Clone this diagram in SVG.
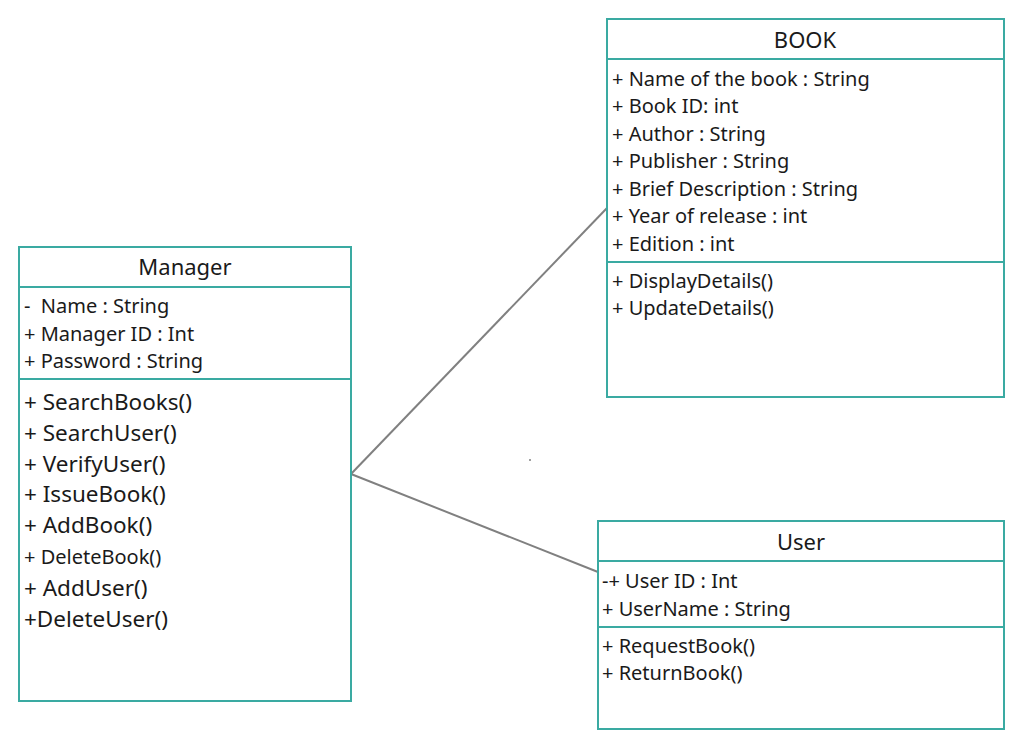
<svg xmlns="http://www.w3.org/2000/svg" width="1024" height="749" viewBox="0 0 1024 749">
<style>
.box{fill:#fff;stroke:#3aaaa2;stroke-width:2}
.sep{stroke:#3aaaa2;stroke-width:2}
text{font-family:"Noto Sans","Open Sans",sans-serif;fill:#1a1a1a}
.t{font-size:22px;text-anchor:middle}
.a{font-size:20px}
.m{font-size:22.5px}
.c{stroke:#808080;stroke-width:2;fill:none}
</style>
<rect width="1024" height="749" fill="#fff"/>
<g id="connectors">
<line class="c" x1="351" y1="474" x2="607" y2="208"/>
<line class="c" x1="351" y1="474" x2="598" y2="572"/>
<circle cx="530" cy="460" r="1" fill="#808080"/>
</g>
<g id="manager">
<rect class="box" x="19" y="247" width="332" height="454"/>
<line class="sep" x1="19" y1="287" x2="351" y2="287"/>
<line class="sep" x1="19" y1="379" x2="351" y2="379"/>
<text class="t" x="185" y="275">Manager</text>
<text class="a" x="24" y="313" xml:space="preserve">-  Name : String</text>
<text class="a" x="24" y="341">+ Manager ID : Int</text>
<text class="a" x="24" y="368">+ Password : String</text>
<text class="m" x="24" y="410">+ SearchBooks()</text>
<text class="m" x="24" y="441">+ SearchUser()</text>
<text class="m" x="24" y="472">+ VerifyUser()</text>
<text class="m" x="24" y="502">+ IssueBook()</text>
<text class="m" x="24" y="533">+ AddBook()</text>
<text class="a" x="24" y="564">+ DeleteBook()</text>
<text class="m" x="24" y="596">+ AddUser()</text>
<text class="m" x="24" y="627">+DeleteUser()</text>
</g>
<g id="book">
<rect class="box" x="607" y="19" width="397" height="378"/>
<line class="sep" x1="607" y1="59" x2="1004" y2="59"/>
<line class="sep" x1="607" y1="262" x2="1004" y2="262"/>
<text class="t" x="805" y="48">BOOK</text>
<text class="a" x="612" y="86">+ Name of the book : String</text>
<text class="a" x="612" y="113">+ Book ID: int</text>
<text class="a" x="612" y="141">+ Author : String</text>
<text class="a" x="612" y="168">+ Publisher : String</text>
<text class="a" x="612" y="196">+ Brief Description : String</text>
<text class="a" x="612" y="223">+ Year of release : int</text>
<text class="a" x="612" y="251">+ Edition : int</text>
<text class="a" x="612" y="288">+ DisplayDetails()</text>
<text class="a" x="612" y="315">+ UpdateDetails()</text>
</g>
<g id="user">
<rect class="box" x="598" y="521" width="406" height="208"/>
<line class="sep" x1="598" y1="561" x2="1004" y2="561"/>
<line class="sep" x1="598" y1="627" x2="1004" y2="627"/>
<text class="t" x="801" y="550">User</text>
<text class="a" x="602" y="588">-+ User ID : Int</text>
<text class="a" x="602" y="616">+ UserName : String</text>
<text class="a" x="602" y="653">+ RequestBook()</text>
<text class="a" x="602" y="680">+ ReturnBook()</text>
</g>
</svg>
